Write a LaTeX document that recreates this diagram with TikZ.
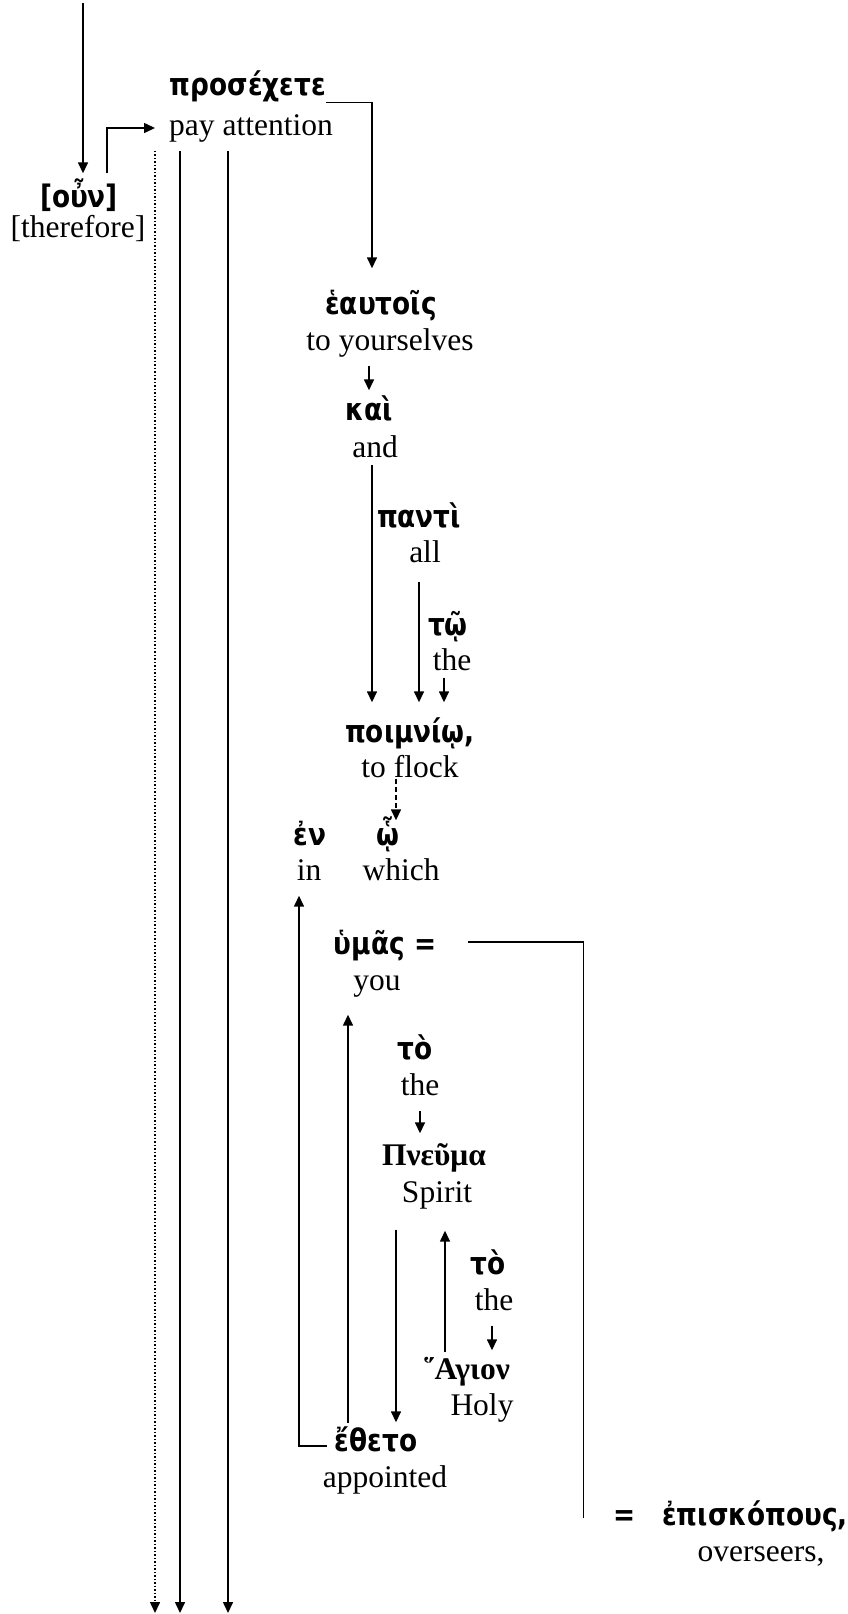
\documentclass[tikz,border=0pt]{standalone}
\usepackage{fontspec}
\setmainfont{Liberation Serif}
\newfontfamily\gkfont[FakeStretch=0.85]{DejaVu Sans}
\usetikzlibrary{arrows.meta}

\begin{document}
\begin{tikzpicture}[x=1pt,y=-1pt,
  gk/.style={font=\gkfont\bfseries\fontsize{31}{36}\selectfont,inner sep=0pt,text height=22pt,text depth=7pt},
  gkserif/.style={font=\bfseries\fontsize{31.5}{36}\selectfont,inner sep=0pt,text height=22pt,text depth=7pt},
  en/.style={font=\fontsize{31.5}{36}\selectfont,inner sep=0pt,text height=22pt,text depth=7pt},
  arr/.style={-{Triangle[length=11pt,width=10pt]},line width=1.5pt}]
\useasboundingbox (0,0) rectangle (848,1614);

\coordinate (top) at (83,3);
\coordinate (out) at (0,1613);

\node[gk] (oun) at (79,200) {[οὖν]};
\node[en] (oun-en) at (78,230) {[therefore]};
\node[gk] (prose) at (248,88) {προσέχετε};
\node[en] (prose-en) at (251,128) {pay attention};
\node[gk] (heaut) at (381,307) {ἑαυτοῖς};
\node[en] (heaut-en) at (390,343) {to yourselves};
\node[gk] (kai) at (369,413) {καὶ};
\node[en] (kai-en) at (375,450) {and};
\node[gk] (panti) at (419,520) {παντὶ};
\node[en] (panti-en) at (425,555) {all};
\node[gk] (to1) at (448,628) {τῷ};
\node[en] (to1-en) at (452,663) {the};
\node[gk] (poim) at (410,735) {ποιμνίῳ,};
\node[en] (poim-en) at (410,770) {to flock};
\node[gk] (en) at (310,838) {ἐν};
\node[en] (en-en) at (309,873) {in};
\node[gk] (ho) at (388,838) {ᾧ};
\node[en] (ho-en) at (401,873) {which};
\node[gk] (hymas) at (385,947) {ὑμᾶς =};
\node[en] (hymas-en) at (377,983) {you};
\node[gk] (to2) at (415,1052) {τὸ};
\node[en] (to2-en) at (420,1088) {the};
\node[gkserif] (pneuma) at (434,1158) {Πνεῦμα};
\node[en] (pneuma-en) at (437,1195) {Spirit};
\node[gk] (to3) at (488,1267) {τὸ};
\node[en] (to3-en) at (494,1303) {the};
\node[gkserif] (hagion) at (467,1372) {῞Αγιον};
\node[en] (hagion-en) at (482,1408) {Holy};
\node[gk] (etheto) at (376,1444) {ἔθετο};
\node[en] (etheto-en) at (385,1480) {appointed};
\node[gk] (eq) at (625,1518) {=};
\node[gk] (episk) at (755,1518) {ἐπισκόπους,};
\node[en] (episk-en) at (761,1554) {overseers,};

\draw[arr,shorten >=12pt] (top) -- (top |- oun.north);
\draw[arr] ([xshift=28pt,yshift=12pt]oun.north) |- ([xshift=-14pt]prose-en.west);
\draw[arr,shorten >=24pt] (prose.south east) -| ([xshift=-9pt]heaut.north);
\draw[arr,dotted] ([xshift=-14pt,yshift=-8pt]prose-en.south west) -- ([xshift=-14pt]prose-en.south west |- out);
\draw[arr] ([xshift=11pt,yshift=-8pt]prose-en.south west) -- ([xshift=11pt]prose-en.south west |- out);
\draw[arr] ([xshift=59pt,yshift=-8pt]prose-en.south west) -- ([xshift=59pt]prose-en.south west |- out);

\draw[arr,shorten <=8pt,shorten >=8pt] (kai.north |- heaut-en.south) -- (kai.north);
\draw[arr,shorten >=18pt] ([xshift=-3pt]kai-en.south) -- ([xshift=-3pt]kai-en.south |- poim.north);
\draw[arr,shorten <=12pt,shorten >=18pt] ([xshift=-6pt]panti-en.south) -- ([xshift=-6pt]panti-en.south |- poim.north);
\draw[arr,shorten >=18pt] ([xshift=-8pt]to1-en.south) -- ([xshift=-8pt]to1-en.south |- poim.north);
\draw[arr,dash pattern=on 5pt off 3pt,shorten <=-6pt,shorten >=3pt] ([xshift=8pt]ho.north |- poim-en.south) -- ([xshift=8pt]ho.north);

\draw[arr,shorten <=8pt,shorten >=8pt] ([yshift=-2pt]etheto.west) -| ([xshift=-10pt]en-en.south);
\draw[arr,shorten <=6pt,shorten >=17pt] ([xshift=-28pt]etheto.north) -- ([xshift=-28pt]etheto.north |- hymas-en.south);
\draw[line width=1.2pt] ([xshift=32pt,yshift=5pt]hymas.east) -| ([xshift=-30pt]eq.west);
\draw[arr,shorten <=8pt,shorten >=10pt] (to2-en.south) -- (to2-en.south |- pneuma.north);
\draw[arr,shorten <=20pt,shorten >=7pt] ([xshift=20pt]etheto.north |- pneuma-en.south) -- ([xshift=20pt]etheto.north);
\draw[arr,shorten <=5pt,shorten >=21pt] ([xshift=-22pt]hagion.north) -- ([xshift=-22pt]hagion.north |- pneuma-en.south);
\draw[arr,shorten <=8pt,shorten >=7pt] ([xshift=-2pt]to3-en.south) -- ([xshift=-2pt]to3-en.south |- hagion.north);
\end{tikzpicture}
\end{document}
